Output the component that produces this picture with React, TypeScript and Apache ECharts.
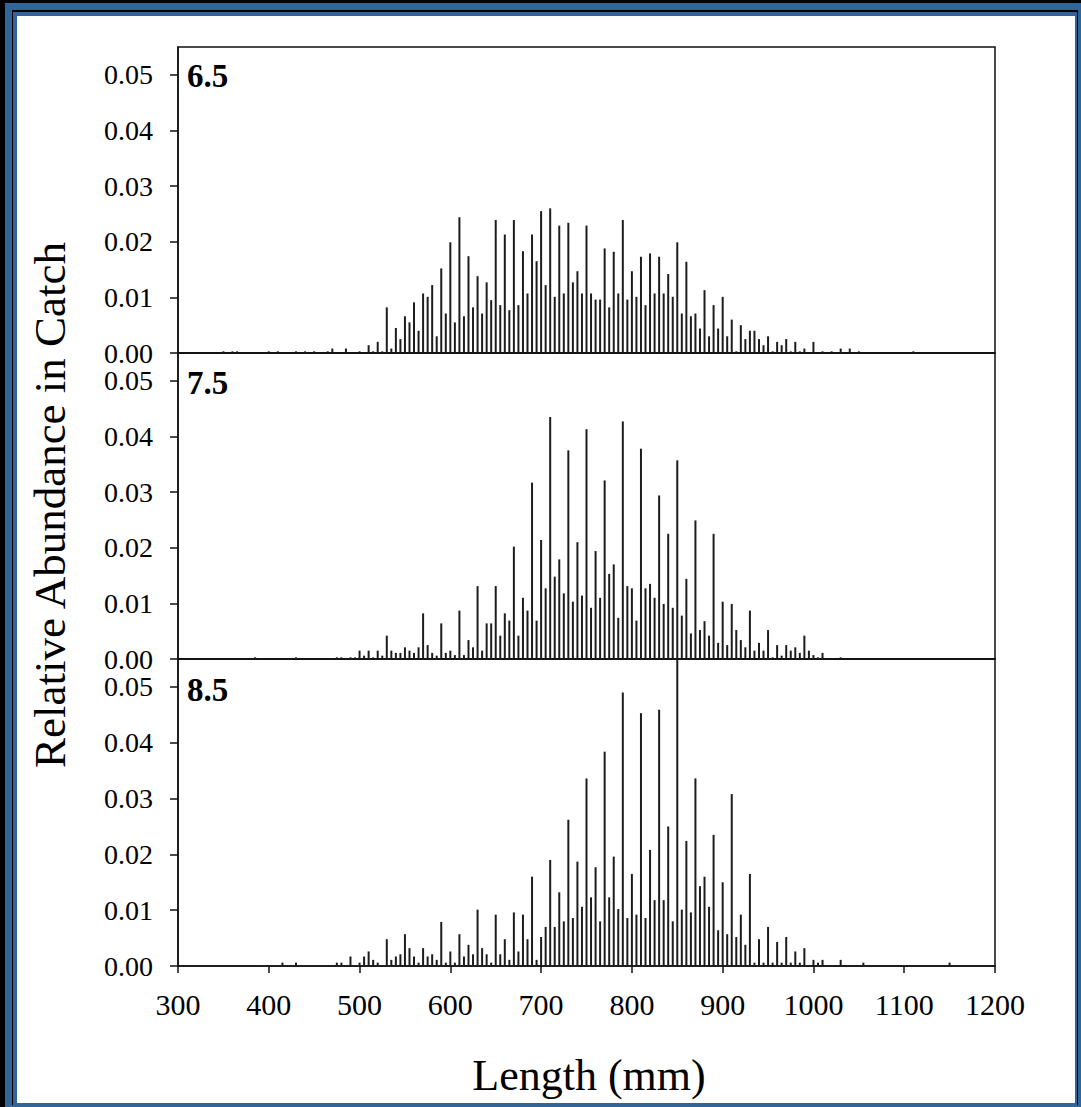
import React, { useEffect, useRef } from "react";
import * as echarts from "echarts";

const panelLabels = ["6.5", "7.5", "8.5"];
const yTickValues = [0, 0.01, 0.02, 0.03, 0.04, 0.05];
const xTickValues = [300, 400, 500, 600, 700, 800, 900, 1000, 1100, 1200];

const panel65: [number, number][] = [
  [350, 0.0003], [360, 0.0003], [365, 0.0003], [400, 0.0003], [410, 0.0003], [430, 0.0003],
  [440, 0.0003], [450, 0.0003], [465, 0.0003], [470, 0.0008], [485, 0.0008], [500, 0.0003],
  [510, 0.0014], [515, 0.0003], [520, 0.002], [525, 0.0003], [530, 0.0082], [535, 0.0008],
  [540, 0.0045], [545, 0.0025], [550, 0.0066], [555, 0.0055], [560, 0.0091], [565, 0.004],
  [570, 0.0107], [575, 0.0101], [580, 0.0122], [585, 0.003], [590, 0.0152], [595, 0.0071],
  [600, 0.0199], [605, 0.0055], [610, 0.0244], [615, 0.0066], [620, 0.0174], [625, 0.0082],
  [630, 0.0138], [635, 0.0071], [640, 0.0127], [645, 0.0095], [650, 0.0239], [655, 0.0086],
  [660, 0.0213], [665, 0.0077], [670, 0.0239], [675, 0.0086], [680, 0.0183], [685, 0.0107],
  [690, 0.0213], [695, 0.0165], [700, 0.0255], [705, 0.0122], [710, 0.026], [715, 0.0101],
  [720, 0.0229], [725, 0.0107], [730, 0.0234], [735, 0.0127], [740, 0.0147], [745, 0.0107],
  [750, 0.0229], [755, 0.0107], [760, 0.0096], [765, 0.0096], [770, 0.0188], [775, 0.0082],
  [780, 0.0182], [785, 0.0107], [790, 0.0239], [795, 0.0096], [800, 0.0147], [805, 0.0101],
  [810, 0.0173], [815, 0.0086], [820, 0.0179], [825, 0.0107], [830, 0.0173], [835, 0.0107],
  [840, 0.0142], [845, 0.0101], [850, 0.0199], [855, 0.0071], [860, 0.0164], [865, 0.0066],
  [870, 0.0071], [875, 0.0044], [880, 0.0113], [885, 0.003], [890, 0.0086], [895, 0.0044],
  [900, 0.0101], [905, 0.003], [910, 0.006], [915, 0.0003], [920, 0.005], [925, 0.0025],
  [930, 0.004], [935, 0.004], [940, 0.0025], [945, 0.0014], [950, 0.003], [955, 0.0003],
  [960, 0.002], [965, 0.0014], [970, 0.0025], [975, 0.0003], [980, 0.002], [985, 0.0003],
  [990, 0.0008], [1000, 0.002], [1010, 0.0003], [1020, 0.0003], [1030, 0.0008], [1040, 0.0008],
  [1050, 0.0003], [1110, 0.0003],
];

const panel75: [number, number][] = [
  [385, 0.0003], [430, 0.0003], [475, 0.0003], [480, 0.0003], [490, 0.0003], [495, 0.0003],
  [500, 0.0015], [505, 0.0006], [510, 0.0015], [515, 0.0003], [520, 0.0015], [525, 0.0006],
  [530, 0.0042], [535, 0.0015], [540, 0.0011], [545, 0.0011], [550, 0.0021], [555, 0.0015],
  [560, 0.0011], [565, 0.0021], [570, 0.0082], [575, 0.0025], [580, 0.0011], [585, 0.0006],
  [590, 0.0064], [595, 0.0011], [600, 0.0015], [605, 0.0007], [610, 0.0087], [615, 0.0007],
  [620, 0.0034], [625, 0.0021], [630, 0.0131], [635, 0.0015], [640, 0.0064], [645, 0.0064],
  [650, 0.0131], [655, 0.0042], [660, 0.0082], [665, 0.0069], [670, 0.0202], [675, 0.0042],
  [680, 0.011], [685, 0.0087], [690, 0.0317], [695, 0.0069], [700, 0.0214], [705, 0.0127],
  [710, 0.0435], [715, 0.0148], [720, 0.0179], [725, 0.0118], [730, 0.0375], [735, 0.0103],
  [740, 0.021], [745, 0.0114], [750, 0.0413], [755, 0.0092], [760, 0.0194], [765, 0.011],
  [770, 0.0321], [775, 0.0153], [780, 0.017], [785, 0.0074], [790, 0.0427], [795, 0.0131],
  [800, 0.0127], [805, 0.0069], [810, 0.0378], [815, 0.0127], [820, 0.0135], [825, 0.011],
  [830, 0.0294], [835, 0.0099], [840, 0.0225], [845, 0.0092], [850, 0.0357], [855, 0.0078],
  [860, 0.0144], [865, 0.0046], [870, 0.0249], [875, 0.0052], [880, 0.0068], [885, 0.0042],
  [890, 0.0225], [895, 0.0029], [900, 0.0103], [905, 0.0025], [910, 0.0099], [915, 0.0052],
  [920, 0.0034], [925, 0.0021], [930, 0.0087], [935, 0.0015], [940, 0.0029], [945, 0.0015],
  [950, 0.0052], [955, 0.0003], [960, 0.0025], [965, 0.0006], [970, 0.0025], [975, 0.0015],
  [980, 0.0021], [985, 0.0011], [990, 0.0042], [995, 0.0015], [1000, 0.0007], [1005, 0.0003],
  [1010, 0.0011], [1030, 0.0003],
];

const panel85: [number, number][] = [
  [415, 0.0006], [430, 0.0006], [475, 0.0006], [480, 0.0006], [490, 0.0017], [500, 0.0006],
  [505, 0.0017], [510, 0.0026], [515, 0.0011], [520, 0.0006], [530, 0.0048], [535, 0.0011],
  [540, 0.0017], [545, 0.0021], [550, 0.0057], [555, 0.0032], [560, 0.0017], [565, 0.0006],
  [570, 0.0032], [575, 0.0017], [580, 0.0021], [585, 0.0011], [590, 0.0079], [595, 0.0006],
  [600, 0.0026], [605, 0.0006], [610, 0.0057], [615, 0.0017], [620, 0.0038], [625, 0.0021],
  [630, 0.0101], [635, 0.0032], [640, 0.0021], [645, 0.0006], [650, 0.0092], [655, 0.0021],
  [660, 0.0048], [665, 0.0011], [670, 0.0096], [675, 0.0026], [680, 0.0092], [685, 0.0048],
  [690, 0.016], [695, 0.0011], [700, 0.0052], [705, 0.007], [710, 0.019], [715, 0.007],
  [720, 0.0132], [725, 0.008], [730, 0.0262], [735, 0.0086], [740, 0.0187], [745, 0.0106],
  [750, 0.0336], [755, 0.0123], [760, 0.0177], [765, 0.008], [770, 0.0384], [775, 0.0123],
  [780, 0.0196], [785, 0.0102], [790, 0.049], [795, 0.0086], [800, 0.0165], [805, 0.0092],
  [810, 0.0453], [815, 0.0086], [820, 0.0208], [825, 0.0118], [830, 0.0459], [835, 0.0118],
  [840, 0.025], [845, 0.008], [850, 0.055], [855, 0.0101], [860, 0.0224], [865, 0.0096],
  [870, 0.0336], [875, 0.0143], [880, 0.016], [885, 0.0106], [890, 0.0235], [895, 0.0064],
  [900, 0.015], [905, 0.0057], [910, 0.0308], [915, 0.0052], [920, 0.0092], [925, 0.0038],
  [930, 0.0165], [935, 0.0006], [940, 0.0048], [945, 0.0006], [950, 0.007], [955, 0.0006],
  [960, 0.0043], [965, 0.0006], [970, 0.0052], [975, 0.0006], [980, 0.0026], [985, 0.0006],
  [990, 0.0032], [1000, 0.0011], [1005, 0.0006], [1010, 0.0011], [1030, 0.0011], [1055, 0.0006],
  [1150, 0.0006],
];

const panels = [panel65, panel75, panel85];

const FONT = '"Liberation Serif", "Times New Roman", serif';

export default function App() {
  const ref = useRef<HTMLDivElement>(null);

  useEffect(() => {
    document.body.style.margin = "0";
    if (!ref.current) return;
    const chart = echarts.init(ref.current, null, { renderer: "svg" });

    const gridTops = [47, 353, 659];
    const gridHeights = [306, 306, 307];

    const grid = gridTops.map((t, i) => ({
      left: 178,
      top: t,
      width: 817,
      height: gridHeights[i],
      show: true,
      borderColor: "#111",
      borderWidth: 1.5,
      backgroundColor: "transparent",
    }));

    const xAxis = panels.map((_, i) => ({
      type: "value",
      gridIndex: i,
      min: 300,
      max: 1200,
      interval: 100,
      axisLine: { show: true, onZero: false, lineStyle: { color: "#111", width: 1.5 } },
      axisTick: {
        show: i === 2,
        inside: false,
        length: 7,
        customValues: xTickValues,
        lineStyle: { color: "#111", width: 1.5 },
      },
      axisLabel: {
        show: i === 2,
        margin: 23,
        fontFamily: FONT,
        fontSize: 30,
        color: "#000",
        customValues: xTickValues,
        formatter: (v: number) => String(v),
      },
      splitLine: { show: false },
    }));

    const yAxis = panels.map((_, i) => ({
      type: "value",
      gridIndex: i,
      min: 0,
      max: 0.055,
      interval: 0.01,
      axisLine: { show: true, lineStyle: { color: "#111", width: 1.5 } },
      axisTick: {
        show: true,
        inside: false,
        length: 8,
        customValues: yTickValues,
        lineStyle: { color: "#111", width: 1.5 },
      },
      axisLabel: {
        show: true,
        margin: 25,
        fontFamily: FONT,
        fontSize: 28,
        lineHeight: 24,
        color: "#000",
        customValues: yTickValues,
        formatter: (v: number) => v.toFixed(2),
      },
      splitLine: { show: false },
    }));

    const series = panels.map((data, i) => ({
      type: "bar",
      xAxisIndex: i,
      yAxisIndex: i,
      data,
      barWidth: 2,
      clip: true,
      itemStyle: { color: "#1c1c1c" },
      silent: true,
    }));

    const labelYs = [76, 383, 690];

    chart.setOption({
      animation: false,
      backgroundColor: "transparent",
      grid,
      xAxis,
      yAxis,
      series,
      graphic: [
        ...panelLabels.map((t, i) => ({
          type: "text",
          x: 187,
          y: labelYs[i],
          style: {
            text: t,
            font: `bold 33px ${FONT}`,
            fill: "#000",
            align: "left",
            verticalAlign: "middle",
          },
        })),
        {
          type: "text",
          x: 50,
          y: 505,
          rotation: Math.PI / 2,
          style: {
            text: "Relative Abundance in Catch",
            font: `45px ${FONT}`,
            fill: "#000",
            align: "center",
            verticalAlign: "middle",
          },
        },
        {
          type: "text",
          x: 589,
          y: 1075,
          style: {
            text: "Length (mm)",
            font: `44px ${FONT}`,
            fill: "#000",
            align: "center",
            verticalAlign: "middle",
          },
        },
      ],
    });

    return () => chart.dispose();
  }, []);

  return (
    <div style={{ position: "relative", width: 1081, height: 1107, background: "#000", overflow: "hidden" }}>
      <div style={{ position: "absolute", left: 5, top: 3, right: 0, bottom: 0, background: "#31659a" }} />
      <div style={{ position: "absolute", left: 12, top: 10, right: 3, bottom: 2, background: "#000" }} />
      <div style={{ position: "absolute", left: 13, top: 12, right: 4, bottom: 2, background: "#31659a" }} />
      <div style={{ position: "absolute", left: 17, top: 16, width: 1058, height: 1087, background: "#fff" }} />
      <div ref={ref} style={{ position: "absolute", left: 0, top: 0, width: 1081, height: 1107 }} />
    </div>
  );
}
